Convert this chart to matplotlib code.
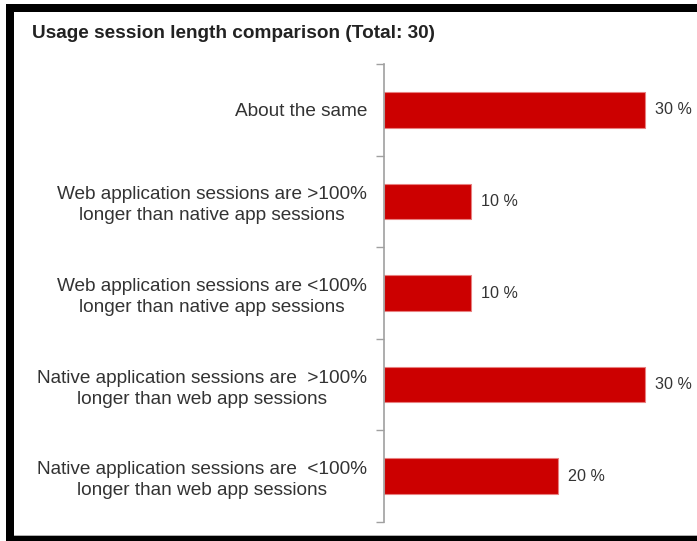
import matplotlib.pyplot as plt
from matplotlib.patches import Rectangle

plt.rcParams['font.family'] = ['Liberation Sans', 'DejaVu Sans']

# answers, top to bottom
categories = [
    "About the same",
    "Web application sessions are >100%\nlonger than native app sessions",
    "Web application sessions are <100%\nlonger than native app sessions",
    "Native application sessions are  >100%\nlonger than web app sessions",
    "Native application sessions are  <100%\nlonger than web app sessions",
]
shares = [30, 10, 10, 30, 20]
value_labels = ["30 %", "10 %", "10 %", "30 %", "20 %"]

W, H = 697, 541
fig = plt.figure(figsize=(W / 100, H / 100), dpi=100)

# frame around the chart
fig.patches.append(Rectangle((6 / W, 1 - 12 / H), 1, 8 / H, transform=fig.transFigure,
                             facecolor="black", edgecolor="none"))
fig.patches.append(Rectangle((6 / W, 0), 8 / W, 1 - 4 / H, transform=fig.transFigure,
                             facecolor="black", edgecolor="none"))
fig.patches.append(Rectangle((6 / W, 0), 1, 5 / H, transform=fig.transFigure,
                             facecolor="black", edgecolor="none"))
fig.patches.append(Rectangle((14 / W, 5 / H), 1, 1.2 / H, transform=fig.transFigure,
                             facecolor="#b0b0b0", edgecolor="none"))

fig.text(32 / W, 1 - 33 / H, "Usage session length comparison (Total: 30)",
         fontsize=13.7, fontweight="bold", color="#222222", va="center", ha="left")

ax = fig.add_axes([384 / W, 19 / H, (W - 384) / W, (522 - 64) / H])

y = list(range(len(categories)))
ax.barh(y, shares, height=0.39, color="#cc0000", edgecolor="#e88080", linewidth=0.8)

for yi, v, lab in zip(y, shares, value_labels):
    ax.annotate(lab, (v, yi), xytext=(7.2, 0), textcoords="offset points",
                va="center", ha="left", fontsize=11.6, color="#333333")

ax.set_xlim(0, (W - 384) / 8.7)
ax.set_ylim(len(categories) - 0.5, -0.5)

ax.set_yticks(y)
ax.set_yticklabels(categories, fontsize=13.7, color="#333333", ha="right",
                   multialignment="center", linespacing=1.3)
ax.tick_params(axis="y", which="major", length=0, pad=12.2)
ax.set_yticks([i - 0.5 for i in range(len(categories) + 1)], minor=True)
ax.tick_params(axis="y", which="minor", length=5.5, width=1, color="#a0a0a0", direction="out")
ax.set_xticks([])

for side in ["top", "right", "bottom"]:
    ax.spines[side].set_visible(False)
ax.spines["left"].set_color("#a0a0a0")
ax.spines["left"].set_linewidth(1.2)

fig.savefig("out.png", dpi=100)
